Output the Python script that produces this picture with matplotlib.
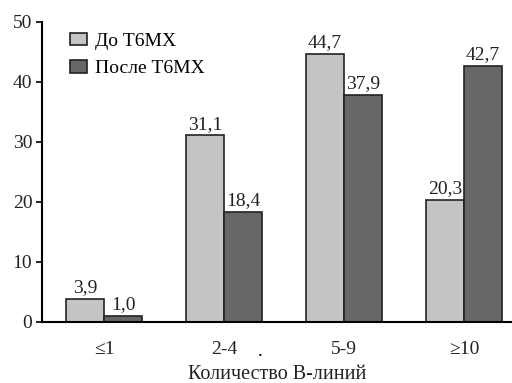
import numpy as np
import matplotlib.pyplot as plt

categories = ['≤1', '2-4', '5-9', '≥10']
before = [3.9, 31.1, 44.7, 20.3]
after = [1.0, 18.4, 37.9, 42.7]
labels = ['До Т6МХ', 'После Т6МХ']

plt.rcParams['font.family'] = ['Liberation Serif', 'DejaVu Serif']
fs = 14

fig = plt.figure(figsize=(5.12, 3.83), dpi=100)
ax = fig.add_axes([42 / 512, 1 - 322 / 383, 470 / 512, 300 / 383])

x = np.arange(len(categories))
w = 0.317
b1 = ax.bar(x - w / 2, before, w, color='#c4c4c4', edgecolor='#222222', linewidth=1.2, label=labels[0])
b2 = ax.bar(x + w / 2, after, w, color='#676767', edgecolor='#222222', linewidth=1.2, label=labels[1])

for bars, vals in ((b1, before), (b2, after)):
    for rect, v in zip(bars, vals):
        ax.annotate(f'{v:.1f}'.replace('.', ','),
                    (rect.get_x() + rect.get_width() / 2, rect.get_height()),
                    xytext=(0, 2), textcoords='offset points',
                    ha='center', va='bottom', fontsize=fs, color='#222222')

ax.set_xlim(-0.52, 3.4)
ax.set_ylim(0, 50)
ax.set_yticks(range(0, 51, 10))
ax.set_xticks(x)
ax.set_xticklabels(categories)
ax.tick_params(axis='x', length=0, pad=14, labelsize=fs, labelcolor='#222222')
ax.tick_params(axis='y', length=4, width=1.2, direction='out', labelsize=fs, labelcolor='#222222', pad=3)
ax.spines['top'].set_visible(False)
ax.spines['right'].set_visible(False)
ax.spines['left'].set_linewidth(1.5)
ax.spines['bottom'].set_linewidth(1.5)
ax.set_xlabel('Количество В-линий', fontsize=14.5, labelpad=5, color='#222222')

# stray dot present in the original image
ax.text(260 / 512, 1 - 356 / 383, '.', transform=fig.transFigure, fontsize=fs, ha='center', va='baseline')

ax.legend(loc='upper left', bbox_to_anchor=(0.03, 1.01), frameon=False, fontsize=fs,
          handlelength=0.9, handleheight=0.6, handletextpad=0.4, labelspacing=0.55,
          borderaxespad=0.3)

fig.savefig('out.png', dpi=100)
